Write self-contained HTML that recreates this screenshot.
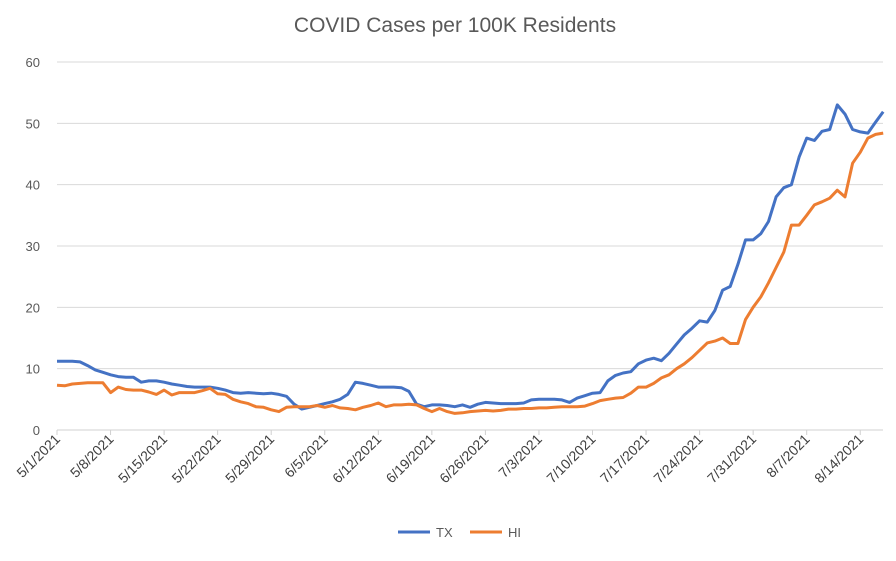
<!DOCTYPE html>
<html><head><meta charset="utf-8"><style>
body{margin:0;background:#fff;}
svg text{font-family:"Liberation Sans",sans-serif;fill:#595959;}
</style></head><body>
<svg id="chart" width="896" height="556">
<text x="455" y="32" text-anchor="middle" font-size="21">COVID Cases per 100K Residents</text>
<g id="grid"></g><g id="xaxis"></g><g id="series"></g>
<g>
<line x1="398" y1="532" x2="430" y2="532" stroke="#4472C4" stroke-width="3"/>
<text x="436" y="537" font-size="13">TX</text>
<line x1="470" y1="532" x2="502" y2="532" stroke="#ED7D31" stroke-width="3"/>
<text x="508" y="537" font-size="13">HI</text>
</g>
</svg>
<script>
const yTicks=[0,10,20,30,40,50,60];
const xTickLabels=["5/1/2021","5/8/2021","5/15/2021","5/22/2021","5/29/2021","6/5/2021","6/12/2021","6/19/2021","6/26/2021","7/3/2021","7/10/2021","7/17/2021","7/24/2021","7/31/2021","8/7/2021","8/14/2021"];
const txValues=[11.2,11.2,11.2,11.1,10.5,9.8,9.4,9.0,8.7,8.6,
8.6,7.8,8.0,8.0,7.8,7.5,7.3,7.1,7.0,7.0,
7.0,6.8,6.5,6.1,6.0,6.1,6.0,5.9,6.0,5.8,
5.5,4.2,3.4,3.7,4.0,4.3,4.6,5.0,5.8,7.8,
7.6,7.3,7.0,7.0,7.0,6.9,6.3,4.2,3.8,4.1,
4.1,4.0,3.8,4.1,3.7,4.2,4.5,4.4,4.3,4.3,
4.3,4.4,4.9,5.0,5.0,5.0,4.9,4.5,5.2,5.6,
6.0,6.1,8.0,8.9,9.3,9.5,10.8,11.4,11.7,11.3,
12.5,14.0,15.5,16.6,17.8,17.6,19.5,22.8,23.4,27.0,
31.0,31.0,32.0,34.0,38.0,39.5,40.0,44.5,47.6,47.2,
48.7,49.0,53.0,51.5,49.0,48.6,48.4,50.2,51.9];
const hiValues=[7.3,7.2,7.5,7.6,7.7,7.7,7.7,6.1,7.0,6.6,
6.5,6.5,6.2,5.8,6.5,5.7,6.1,6.1,6.1,6.4,
6.8,5.9,5.8,5.0,4.6,4.3,3.8,3.7,3.3,3.0,
3.7,3.8,3.8,3.8,4.0,3.7,4.0,3.6,3.5,3.3,
3.7,4.0,4.4,3.8,4.1,4.1,4.2,4.1,3.5,3.0,
3.5,3.0,2.7,2.8,3.0,3.1,3.2,3.1,3.2,3.4,
3.4,3.5,3.5,3.6,3.6,3.7,3.8,3.8,3.8,3.9,
4.3,4.8,5.0,5.2,5.3,6.0,7.0,7.0,7.6,8.5,
9.0,10.0,10.8,11.8,13.0,14.2,14.5,15.0,14.1,14.1,
18.0,20.0,21.7,24.0,26.5,29.0,33.4,33.4,35.0,36.7,
37.2,37.8,39.1,38.0,43.5,45.3,47.6,48.2,48.4];
const NS="http://www.w3.org/2000/svg";
const x0=57,pxPerDay=7.65,yBase=430,yTop=62,yMax=60;
const xs=d=>x0+d*pxPerDay;
const ys=v=>yBase-(v/yMax)*(yBase-yTop);
const grid=document.getElementById('grid');
yTicks.forEach(t=>{
 const l=document.createElementNS(NS,'line');
 l.setAttribute('x1',x0);l.setAttribute('x2',883);l.setAttribute('y1',ys(t));l.setAttribute('y2',ys(t));
 l.setAttribute('stroke',t===0?'#d0d0d0':'#d9d9d9');l.setAttribute('stroke-width','1');
 
 
 grid.appendChild(l);
 const tx=document.createElementNS(NS,'text');
 tx.setAttribute('x',40);tx.setAttribute('y',ys(t)+5);tx.setAttribute('text-anchor','end');tx.setAttribute('font-size','13');
 tx.textContent=t;
 
 
 grid.appendChild(tx);
});
const xa=document.getElementById('xaxis');
xTickLabels.forEach((lab,i)=>{
 const x=xs(i*7);
 const tk=document.createElementNS(NS,'line');
 tk.setAttribute('x1',x);tk.setAttribute('x2',x);tk.setAttribute('y1',yBase);tk.setAttribute('y2',yBase+5);tk.setAttribute('stroke','#d0d0d0');
 
 
 xa.appendChild(tk);
 const t=document.createElementNS(NS,'text');
 t.setAttribute('x',x+4);t.setAttribute('y',yBase+10);t.setAttribute('text-anchor','end');t.setAttribute('font-size','14');
 t.setAttribute('style','fill:#404040');
 t.setAttribute('transform','rotate(-45 '+(x+4)+' '+(yBase+10)+')');
 t.textContent=lab;
 
 
 xa.appendChild(t);
});
const sg=document.getElementById('series');
function draw(vals,color,name){
 const p=document.createElementNS(NS,'polyline');
 p.setAttribute('points',vals.map((v,i)=>xs(i).toFixed(1)+','+ys(v).toFixed(1)).join(' '));
 p.setAttribute('fill','none');p.setAttribute('stroke',color);p.setAttribute('stroke-width','3');p.setAttribute('stroke-linejoin','round');
 
 
 sg.appendChild(p);
}
draw(txValues,'#4472C4','tx-line');
draw(hiValues,'#ED7D31','hi-line');
</script>
</body></html>
